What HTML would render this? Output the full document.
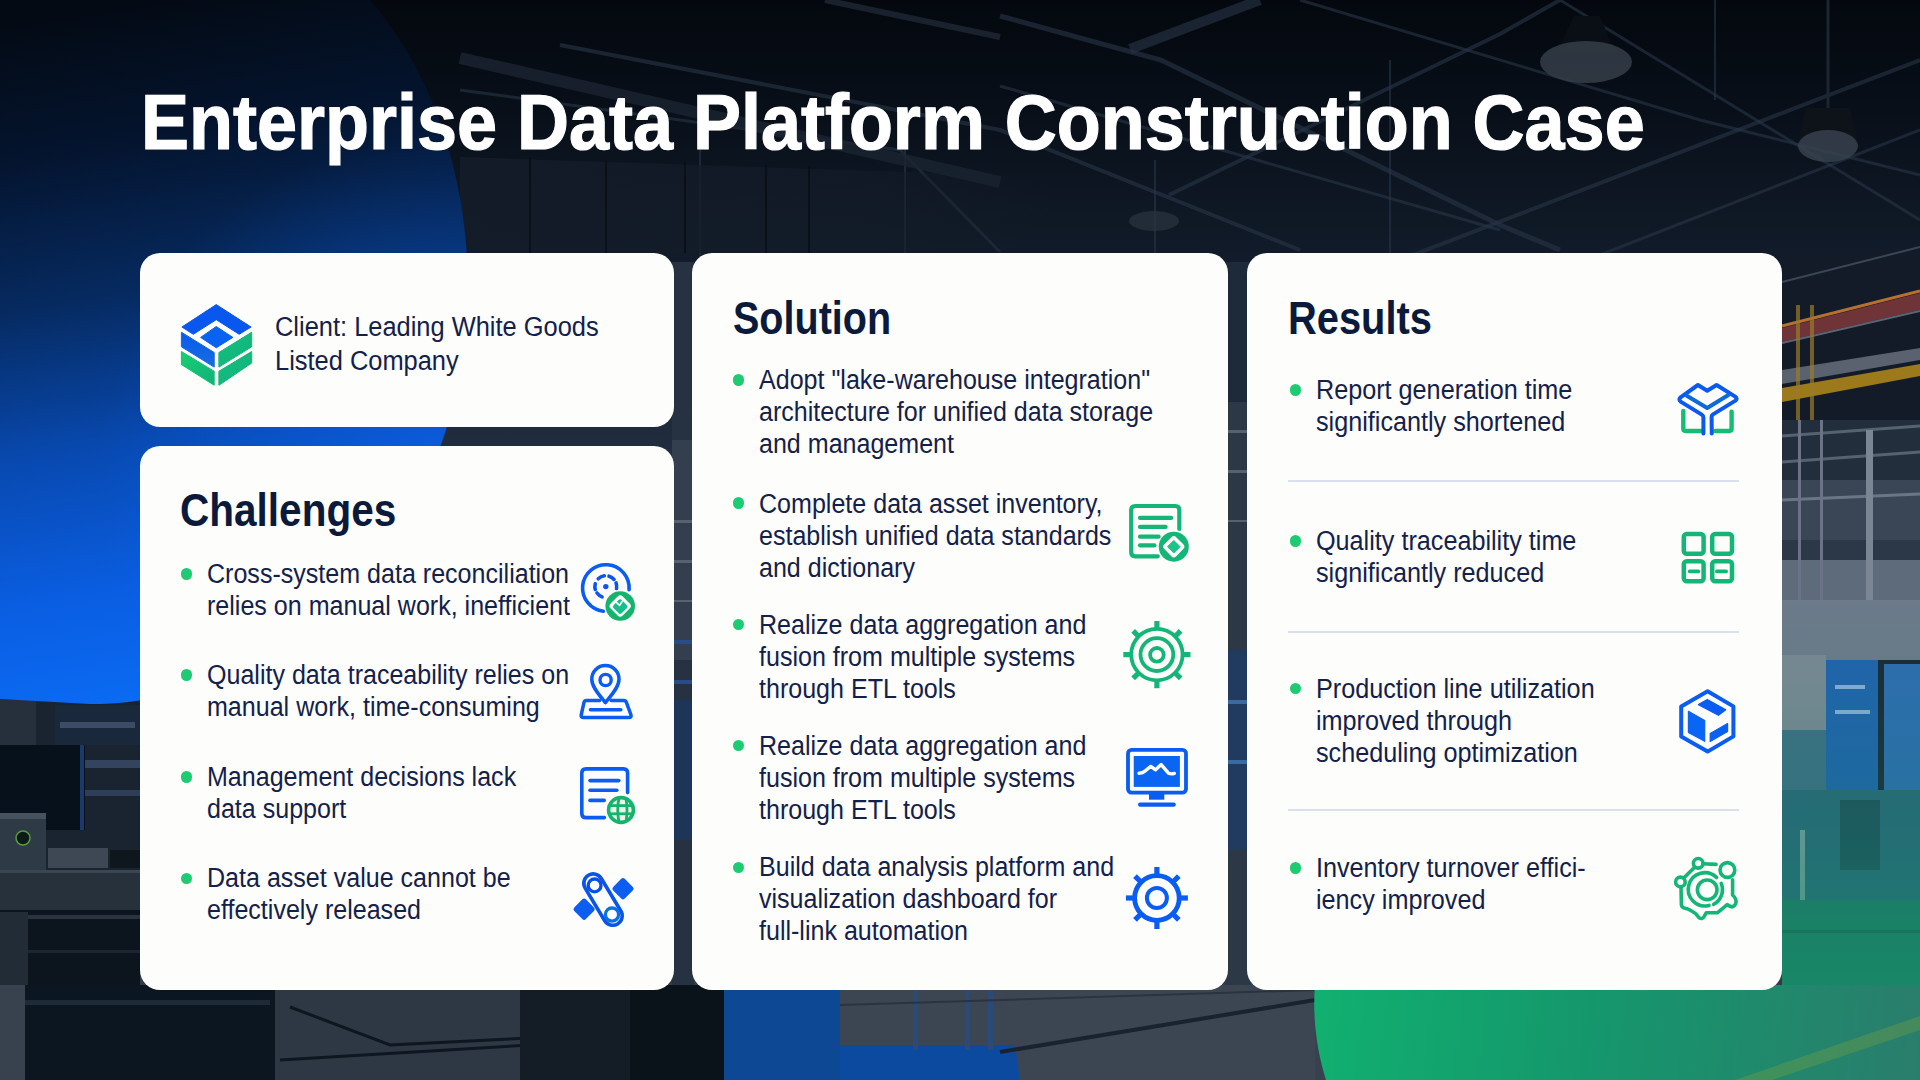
<!DOCTYPE html>
<html>
<head>
<meta charset="utf-8">
<style>
html,body{margin:0;padding:0;}
body{width:1920px;height:1080px;overflow:hidden;position:relative;background:#0b1118;font-family:"Liberation Sans",sans-serif;}
.abs{position:absolute;}
#bg{position:absolute;left:0;top:0;width:1920px;height:1080px;}
.card{position:absolute;background:#fdfdfb;border-radius:20px;}
h1{position:absolute;margin:0;left:140.5px;top:77px;font-size:77.6px;font-weight:700;color:#fff;white-space:nowrap;letter-spacing:0px;line-height:90px;transform-origin:0 0;transform:scaleX(0.9275);-webkit-text-stroke:1.2px #fff;}
.h2{position:absolute;margin:0;font-size:45.5px;font-weight:700;color:#0b1a3a;white-space:nowrap;line-height:50px;letter-spacing:0px;transform-origin:0 0;transform:scaleX(0.88);}
.txt{position:absolute;margin:0;font-size:26.8px;color:#13214a;white-space:nowrap;line-height:32px;letter-spacing:0px;transform-origin:0 0;transform:scaleX(0.935);}
.dot{position:absolute;width:11.5px;height:11.5px;border-radius:50%;background:#1ccb72;}
.ico{position:absolute;overflow:visible;}
.div{position:absolute;height:2px;background:#d8e0ee;}
</style>
</head>
<body>
<svg id="bg" width="1920" height="1080" viewBox="0 0 1920 1080">
  <defs>
    <linearGradient id="gBlue" gradientUnits="userSpaceOnUse" x1="150" y1="0" x2="260" y2="704">
      <stop offset="0" stop-color="#030a14"/>
      <stop offset="0.19" stop-color="#04142e"/>
      <stop offset="0.4" stop-color="#062a60"/>
      <stop offset="0.61" stop-color="#0849b0"/>
      <stop offset="0.815" stop-color="#0a5ee2"/>
      <stop offset="1" stop-color="#0a6df6"/>
    </linearGradient>
    <radialGradient id="gBlueHi" gradientUnits="userSpaceOnUse" cx="430" cy="470" r="330">
      <stop offset="0" stop-color="#0d64f0" stop-opacity="0.55"/>
      <stop offset="1" stop-color="#0d64f0" stop-opacity="0"/>
    </radialGradient>
    <linearGradient id="gGreen" gradientUnits="userSpaceOnUse" x1="1315" y1="1000" x2="1920" y2="1080">
      <stop offset="0" stop-color="#11b070"/>
      <stop offset="0.45" stop-color="#15976c"/>
      <stop offset="1" stop-color="#2a7d6c"/>
    </linearGradient>
    <linearGradient id="gTop" x1="0" y1="0" x2="0" y2="1">
      <stop offset="0" stop-color="#04080e"/>
      <stop offset="0.1" stop-color="#080f19"/>
      <stop offset="0.235" stop-color="#111b29"/>
      <stop offset="0.45" stop-color="#243042"/>
      <stop offset="0.65" stop-color="#2a3646"/>
      <stop offset="0.85" stop-color="#2c3744"/>
      <stop offset="1" stop-color="#38424e"/>
    </linearGradient>
    <linearGradient id="gRightTint" gradientUnits="userSpaceOnUse" x1="0" y1="600" x2="0" y2="1080">
      <stop offset="0" stop-color="#1a8a6a" stop-opacity="0"/>
      <stop offset="0.45" stop-color="#15806a" stop-opacity="0.25"/>
      <stop offset="1" stop-color="#12a06a" stop-opacity="0.75"/>
    </linearGradient>
  </defs>
  <rect x="0" y="0" width="1920" height="1080" fill="url(#gTop)"/>

  <!-- ceiling beams top band -->
  <g stroke="#283647" stroke-opacity="0.6" fill="none">
    <path d="M1130 49 L1260 0" stroke-width="10"/>
    <path d="M1000 16 L1161 60 L1500 225 L1560 250" stroke-width="5"/>
    <path d="M1000 86 L1500 230" stroke-width="3"/>
    <path d="M1169 195 L1500 34 L1560 0" stroke-width="4"/>
    <path d="M560 45 L1000 130 L1300 250" stroke-width="4"/>
    <path d="M460 90 L900 150 L1000 252" stroke-width="3"/>
    <path d="M1400 260 L1920 60" stroke-width="4"/>
    <path d="M1560 0 L1920 220" stroke-width="3"/>
    <path d="M1300 0 L1700 120 L1920 175" stroke-width="3"/>
    <path d="M1600 255 L1920 130" stroke-width="3"/>
    <path d="M700 150 L700 255" stroke-width="2"/>
    <path d="M905 150 L905 255" stroke-width="2"/>
    <path d="M1155 160 L1155 255" stroke-width="2"/>
    <path d="M1390 60 L1390 255" stroke-width="2"/>
    <path d="M1715 0 L1715 100" stroke-width="2"/>
  </g>
  <linearGradient id="gWall" gradientUnits="userSpaceOnUse" x1="460" y1="0" x2="1050" y2="0"><stop offset="0" stop-color="#131c28" stop-opacity="0.9"/><stop offset="0.7" stop-color="#131c28" stop-opacity="0.6"/><stop offset="1" stop-color="#131c28" stop-opacity="0"/></linearGradient>
  <path d="M460 157 L1050 177 L1050 253 L460 253 Z" fill="url(#gWall)"/>
  <g stroke="#070b12" stroke-opacity="0.7" stroke-width="2">
    <path d="M606 160 L606 253"/><path d="M685 162 L685 253"/><path d="M766 165 L766 253"/><path d="M809 166 L809 253"/><path d="M530 158 L530 253"/>
  </g>
  <path d="M460 58 L1000 182" stroke="#1a2431" stroke-opacity="0.8" stroke-width="12" fill="none"/>
  <path d="M825 0 L1000 37" stroke="#1e2835" stroke-opacity="0.8" stroke-width="6" fill="none"/>
  <!-- lamps -->
  <path d="M1558 50 L1574 16 L1600 16 L1614 50 Z" fill="#0a0f16"/>
  <ellipse cx="1586" cy="62" rx="46" ry="21" fill="#353e48" fill-opacity="0.85"/>
  <path d="M1798 140 L1806 108 L1850 108 L1858 140 Z" fill="#0e131a"/>
  <ellipse cx="1828" cy="146" rx="30" ry="16" fill="#3a4450" fill-opacity="0.8"/>
  <line x1="1828" y1="0" x2="1828" y2="108" stroke="#1c2530" stroke-width="3"/>
  <ellipse cx="1154" cy="221" rx="25" ry="10" fill="#2a3440" fill-opacity="0.7"/>
  
  <!-- right strip factory -->
  <g>
    <rect x="1782" y="250" width="138" height="830" fill="#1c2634"/>
    <rect x="1782" y="250" width="138" height="175" fill="#121b27"/>
    <path d="M1782 282 L1920 247" stroke="#3a4656" stroke-width="2"/>
    <path d="M1782 326 L1920 291" stroke="#b8702e" stroke-width="3"/>
    <path d="M1782 328 L1920 293 L1920 310 L1782 342 Z" fill="#6e3438"/>
    <path d="M1782 343 L1920 311" stroke="#5a6474" stroke-width="2"/>
    <path d="M1782 370 L1920 348 L1920 360 L1782 384 Z" fill="#5a6270"/>
    <path d="M1782 388 L1920 364 L1920 376 L1782 402 Z" fill="#9c7a1c"/>
    <rect x="1796" y="305" width="4" height="120" fill="#9a7a2a" fill-opacity="0.7"/>
    <rect x="1810" y="305" width="4" height="120" fill="#9a7a2a" fill-opacity="0.7"/>
    <rect x="1782" y="420" width="138" height="60" fill="#222e3c"/>
    <path d="M1782 436 L1920 426" stroke="#56626f" stroke-width="3"/>
    <path d="M1782 462 L1920 452" stroke="#56626f" stroke-width="3"/>
    <rect x="1782" y="480" width="138" height="80" fill="#3a4656"/>
    <path d="M1782 500 L1920 494" stroke="#6a7684" stroke-width="3"/>
    <rect x="1782" y="540" width="138" height="22" fill="#2c3848"/>
    <rect x="1782" y="560" width="138" height="100" fill="#5e6b7b"/>
    <rect x="1866" y="430" width="7" height="420" fill="#7a8694"/>
    <rect x="1798" y="420" width="3" height="240" fill="#6a7486"/>
    <rect x="1820" y="420" width="3" height="240" fill="#6a7486"/>
    <rect x="1782" y="600" width="138" height="60" fill="#6c7a8a"/>
    <rect x="1782" y="655" width="44" height="75" fill="#7c8894"/>
    <rect x="1826" y="660" width="52" height="130" fill="#2062ae"/>
    <rect x="1884" y="664" width="36" height="126" fill="#2e6cb2"/>
    <rect x="1835" y="685" width="30" height="4" fill="#8ab0d8"/>
    <rect x="1835" y="710" width="35" height="4" fill="#8ab0d8"/>
    <rect x="1782" y="730" width="44" height="60" fill="#3e6e84"/>
    <rect x="1782" y="790" width="138" height="110" fill="#2a6678"/>
    <rect x="1840" y="800" width="40" height="70" fill="#1e4e5a"/>
    <rect x="1800" y="830" width="5" height="70" fill="#7aa0a0"/>
    <rect x="1782" y="900" width="138" height="180" fill="#207664"/>
    <rect x="1782" y="930" width="138" height="3" fill="#1a5e52"/>
  </g>

  <!-- left strip machinery (below blob) -->
  <g>
    <rect x="0" y="690" width="140" height="390" fill="#1a2430"/>
    <rect x="0" y="700" width="36" height="50" fill="#26303c"/>
    <rect x="55" y="705" width="85" height="40" fill="#1a283c"/>
    <rect x="60" y="722" width="75" height="6" fill="#3c4c66"/>
    <rect x="85" y="760" width="55" height="8" fill="#34445e"/>
    <rect x="85" y="790" width="55" height="6" fill="#2e3e58"/>
    <rect x="0" y="745" width="85" height="85" fill="#07111c"/>
    <rect x="80" y="745" width="4" height="85" fill="#1a3a6a"/>
    <rect x="0" y="813" width="46" height="57" fill="#2e3a46"/>
    <rect x="0" y="813" width="46" height="6" fill="#46525e"/>
    <circle cx="23" cy="838" r="7" fill="#0c1a1a" stroke="#5a9a40" stroke-width="1.5"/>
    <rect x="48" y="848" width="60" height="20" fill="#3e4854"/>
    <rect x="110" y="850" width="30" height="18" fill="#0e161e"/>
    <rect x="0" y="870" width="140" height="40" fill="#26313c"/>
    <rect x="0" y="870" width="140" height="3" fill="#3a4652"/>
    <rect x="0" y="910" width="140" height="170" fill="#0c151e"/>
    <rect x="28" y="915" width="112" height="4" fill="#2a3440"/>
    <rect x="28" y="950" width="112" height="3" fill="#1c2630"/>
    <rect x="0" y="912" width="28" height="168" fill="#222c37"/>
  </g>

  <!-- gaps between cards -->
  <rect x="672" y="262" width="22" height="725" fill="#263242"/>
  <rect x="672" y="440" width="22" height="220" fill="#333f4e"/>
  <rect x="672" y="700" width="22" height="140" fill="#1d3558"/>
  <rect x="1226" y="262" width="24" height="725" fill="#2c3846"/>
  <rect x="1226" y="262" width="24" height="140" fill="#1e2a3a"/>
  <rect x="1226" y="650" width="24" height="200" fill="#203a60"/>

  <g fill="#56626f">
    <rect x="672" y="520" width="22" height="3"/><rect x="672" y="560" width="22" height="3"/><rect x="672" y="600" width="22" height="2"/>
    <rect x="672" y="640" width="22" height="4" fill="#2a4a8a"/><rect x="672" y="680" width="22" height="4" fill="#2a4a8a"/>
    <rect x="1226" y="430" width="24" height="3"/><rect x="1226" y="470" width="24" height="3"/><rect x="1226" y="520" width="24" height="2"/>
    <rect x="1226" y="700" width="24" height="4" fill="#3a6aa0"/><rect x="1226" y="760" width="24" height="4" fill="#3a6aa0"/>
  </g>
  <!-- bottom band -->
  <g>
    <rect x="0" y="985" width="1920" height="95" fill="#37424e"/>
    <rect x="25" y="985" width="250" height="95" fill="#0c1620"/>
    <rect x="25" y="1000" width="245" height="5" fill="#1e2a36"/>
    <rect x="275" y="985" width="245" height="95" fill="#2e3844"/>
    <path d="M290 1007 L390 1045 L530 1038" stroke="#0e1620" stroke-width="3" fill="none"/>
    <path d="M280 1060 L530 1045" stroke="#0e1620" stroke-width="3" fill="none"/>
    <rect x="520" y="985" width="110" height="95" fill="#141c26"/>
    <rect x="630" y="985" width="95" height="95" fill="#0a121a"/>
    <rect x="724" y="985" width="116" height="95" fill="#0c4894"/>
    <rect x="840" y="985" width="475" height="95" fill="#3c4652"/>
    <path d="M840 1045 L1015 1045 L1020 1080 L840 1080 Z" fill="#0c4aa0"/>
    <rect x="913" y="990" width="5" height="60" fill="#2a4a7a"/>
    <rect x="965" y="990" width="5" height="60" fill="#2a4a7a"/>
    <rect x="988" y="990" width="5" height="60" fill="#2a4a7a"/>
    <path d="M1000 1052 L1315 1000" stroke="#1a2230" stroke-width="4" fill="none"/>
    <path d="M840 1005 L1315 990" stroke="#2a3440" stroke-width="2" fill="none"/>
  </g>

  <!-- right green tint over factory -->
  <rect x="1782" y="560" width="138" height="520" fill="url(#gRightTint)"/>

  <!-- blue blob -->
  <path d="M0 0 L370 0 C430 70 468 170 468 290 C469 370 445 470 380 560 C320 650 200 704 90 704 L0 699 Z" fill="url(#gBlue)"/>
  <path d="M0 0 L370 0 C430 70 468 170 468 290 C469 370 445 470 380 560 C320 650 200 704 90 704 L0 699 Z" fill="url(#gBlueHi)"/>
  <!-- green blob -->
  <path d="M1315 985 C1312 1020 1318 1055 1326 1080 L1920 1080 L1920 985 Z" fill="url(#gGreen)"/>
  <path d="M1735 1080 L1920 1016 L1920 1030 L1772 1080 Z" fill="#7aa040" fill-opacity="0.35"/>
</svg>

<h1 id="title">Enterprise Data Platform Construction Case</h1>

<!-- Client card -->
<div class="card" style="left:140px;top:253px;width:534px;height:174px;"></div>
<div class="txt" id="client" style="left:275px;top:310px;font-size:28.2px;line-height:33.5px;transform:scaleX(0.902);">Client: Leading White Goods<br>Listed Company</div>

<!-- Challenges card -->
<div class="card" style="left:140px;top:446px;width:534px;height:544px;"></div>
<div class="h2" id="hChal" style="left:180px;top:486px;transform:scaleX(0.891);">Challenges</div>

<!-- Solution card -->
<div class="card" style="left:692px;top:253px;width:536px;height:737px;"></div>
<div class="h2" id="hSol" style="left:732.5px;top:294px;transform:scaleX(0.869);">Solution</div>

<!-- Results card -->
<div class="card" style="left:1247px;top:253px;width:535px;height:737px;"></div>
<div class="h2" id="hRes" style="left:1287.5px;top:294px;transform:scaleX(0.876);">Results</div>


<!-- challenges items -->
<div class="dot" style="left:180.5px;top:568px;"></div>
<div class="txt" id="c1" style="left:206.5px;top:557.5px;">Cross-system data reconciliation<br>relies on manual work, inefficient</div>
<div class="dot" style="left:180.5px;top:669px;"></div>
<div class="txt" id="c2" style="left:206.5px;top:658.8px;">Quality data traceability relies on<br>manual work, time-consuming</div>
<div class="dot" style="left:180.5px;top:771px;"></div>
<div class="txt" id="c3" style="left:206.5px;top:760.7px;">Management decisions lack<br>data support</div>
<div class="dot" style="left:180.5px;top:872.5px;"></div>
<div class="txt" id="c4" style="left:206.5px;top:862.3px;">Data asset value cannot be<br>effectively released</div>

<!-- solution items -->
<div class="dot" style="left:732.5px;top:374px;"></div>
<div class="txt" id="s1" style="left:758.8px;top:363.7px;">Adopt "lake-warehouse integration"<br>architecture for unified data storage<br>and management</div>
<div class="dot" style="left:732.5px;top:497px;"></div>
<div class="txt" id="s2" style="left:758.8px;top:487.5px;">Complete data asset inventory,<br>establish unified data standards<br>and dictionary</div>
<div class="dot" style="left:732.5px;top:618.5px;"></div>
<div class="txt" id="s3" style="left:758.8px;top:608.9px;">Realize data aggregation and<br>fusion from multiple systems<br>through ETL tools</div>
<div class="dot" style="left:732.5px;top:739.5px;"></div>
<div class="txt" id="s4" style="left:758.8px;top:730.3px;">Realize data aggregation and<br>fusion from multiple systems<br>through ETL tools</div>
<div class="dot" style="left:732.5px;top:861.5px;"></div>
<div class="txt" id="s5" style="left:758.8px;top:851px;">Build data analysis platform and<br>visualization dashboard for<br>full-link automation</div>

<!-- results items -->
<div class="dot" style="left:1289.5px;top:384px;"></div>
<div class="txt" id="r1" style="transform:scaleX(0.94);left:1316px;top:374.3px;">Report generation time<br>significantly shortened</div>
<div class="div" style="left:1288px;top:480px;width:451px;"></div>
<div class="dot" style="left:1289.5px;top:535px;"></div>
<div class="txt" id="r2" style="transform:scaleX(0.94);left:1316px;top:525px;">Quality traceability time<br>significantly reduced</div>
<div class="div" style="left:1288px;top:631px;width:451px;"></div>
<div class="dot" style="left:1289.5px;top:682.5px;"></div>
<div class="txt" id="r3" style="transform:scaleX(0.94);left:1316px;top:672.7px;">Production line utilization<br>improved through<br>scheduling optimization</div>
<div class="div" style="left:1288px;top:809px;width:451px;"></div>
<div class="dot" style="left:1289.5px;top:862px;"></div>
<div class="txt" id="r4" style="transform:scaleX(0.94);left:1316px;top:851.7px;">Inventory turnover effici-<br>iency improved</div>

<svg class="ico" style="left:160px;top:290px;" width="112" height="110" viewBox="0 0 112 110">
 <defs>
  <linearGradient id="lgB" x1="0" y1="0" x2="0" y2="1"><stop offset="0" stop-color="#0a58ee"/><stop offset="1" stop-color="#1670dc"/></linearGradient>
  <linearGradient id="lgG1" x1="0" y1="0" x2="1" y2="1"><stop offset="0" stop-color="#10c27c"/><stop offset="1" stop-color="#14b07e"/></linearGradient>
  <linearGradient id="lgG2" x1="0" y1="0" x2="1" y2="1"><stop offset="0" stop-color="#18d070"/><stop offset="1" stop-color="#10b07c"/></linearGradient>
 </defs>
 <path d="M56.25 14.6 L91.1 37 L79.2 44.3 L56.25 29.7 L33.3 44.3 L21.9 37 Z" fill="#0a57ef" stroke="#0a57ef" stroke-width="1" stroke-linejoin="round"/>
 <path d="M56.25 36.5 L72.9 47.4 L56.25 57.8 L40.6 47.4 Z" fill="#0a62f0" stroke="#0a62f0" stroke-width="1" stroke-linejoin="round"/>
 <path d="M21.4 42.2 L54.2 62.5 L54.2 77.1 L21.4 56.8 Z" fill="url(#lgB)" stroke="#1268e0" stroke-width="1" stroke-linejoin="round"/>
 <path d="M58.9 62.5 L91.7 42.2 L91.7 56.8 L58.9 77.1 Z" fill="url(#lgG1)" stroke="#12b87c" stroke-width="1" stroke-linejoin="round"/>
 <path d="M21.4 61.5 L54.2 81.25 L54.2 95.3 L21.4 74.5 Z" fill="url(#lgG2)" stroke="#14c274" stroke-width="1" stroke-linejoin="round"/>
 <path d="M58.9 81.25 L91.7 61.5 L91.7 73 L58.9 95.3 Z" fill="url(#lgG1)" stroke="#12b47a" stroke-width="1" stroke-linejoin="round"/>
</svg>
<svg class="ico" style="left:570px;top:555px;" width="75" height="75" viewBox="0 0 75 75">
 <path d="M59.1 34.7 A23.3 23.3 0 1 0 33.3 56.2" fill="none" stroke="#0a5cf2" stroke-width="3.6" stroke-linecap="round"/>
 <path d="M28.23 23.76 A10.9 10.9 0 0 1 34.28 20.81" fill="none" stroke="#0d55ee" stroke-width="3.6" stroke-linecap="round"/><path d="M38.99 21.18 A10.9 10.9 0 0 1 44.03 24.45" fill="none" stroke="#0d55ee" stroke-width="3.6" stroke-linecap="round"/><path d="M46.04 27.87 A10.9 10.9 0 0 1 46.53 33.49" fill="none" stroke="#0d55ee" stroke-width="3.6" stroke-linecap="round"/><path d="M25.27 34.42 A10.9 10.9 0 0 1 25.27 28.78" fill="none" stroke="#0d55ee" stroke-width="3.6" stroke-linecap="round"/><path d="M32.07 41.84 A10.9 10.9 0 0 1 26.98 38.01" fill="none" stroke="#0d55ee" stroke-width="3.6" stroke-linecap="round"/>
 <circle cx="35.8" cy="31.6" r="2.7" fill="#0d55ee"/>
 <circle cx="50.2" cy="51" r="14.8" fill="#16b36c"/>
 <rect x="-8.5" y="-8.5" width="17" height="17" rx="3.6" fill="#fff" transform="translate(50.2 51) rotate(45)"/>
 <rect x="-5.8" y="-5.8" width="11.6" height="11.6" rx="2.4" fill="#14c08a" transform="translate(50.2 51.6) rotate(45)"/>
 <path d="M46.6 47.6 L49.6 50.4 L52.4 46" fill="none" stroke="#fff" stroke-width="1.6" stroke-linecap="round" stroke-linejoin="round"/>
</svg>
<svg class="ico" style="left:570px;top:655px;" width="75" height="75" viewBox="0 0 75 75">
 <path d="M35.4 47.6 C30 40.5 21.8 32.5 21.8 24.2 A13.6 13.6 0 0 1 49 24.2 C49 32.5 40.8 40.5 35.4 47.6 Z" fill="none" stroke="#0a5cf2" stroke-width="3.5" stroke-linejoin="round"/>
 <circle cx="35.6" cy="25" r="5.6" fill="none" stroke="#0a5cf2" stroke-width="3.4"/>
 <path d="M29.6 45.6 L16.5 45.6 Q14.5 45.6 14 47.4 L11.2 60 Q10.8 62.6 13.4 62.6 L59 62.6 Q61.6 62.6 61 60 L56.4 47.4 Q55.8 45.6 53.8 45.6 L41.2 45.6" fill="none" stroke="#0a5cf2" stroke-width="3.5" stroke-linejoin="round" stroke-linecap="round"/>
 <line x1="20.4" y1="54.8" x2="50.8" y2="54.8" stroke="#0a5cf2" stroke-width="3.5" stroke-linecap="round"/>
</svg>
<svg class="ico" style="left:570px;top:758px;" width="75" height="75" viewBox="0 0 75 75">
 <path d="M34.4 59.6 L16 59.6 Q11.8 59.6 11.8 55.4 L11.8 15.1 Q11.8 10.9 16 10.9 L53.4 10.9 Q57.6 10.9 57.6 15.1 L57.6 34.6" fill="none" stroke="#0a5cf2" stroke-width="3.6" stroke-linecap="round" stroke-linejoin="round"/>
 <line x1="20" y1="22.6" x2="48.8" y2="22.6" stroke="#0a5cf2" stroke-width="3.6" stroke-linecap="round"/>
 <line x1="20" y1="32.3" x2="46.8" y2="32.3" stroke="#0a5cf2" stroke-width="3.6" stroke-linecap="round"/>
 <line x1="20" y1="42.4" x2="34.2" y2="42.4" stroke="#0a5cf2" stroke-width="3.6" stroke-linecap="round"/>
 <circle cx="51" cy="52" r="12.4" fill="#eef4e6" stroke="#14b46c" stroke-width="3.6"/>
 <line x1="38.6" y1="47.6" x2="63.4" y2="47.6" stroke="#14b46c" stroke-width="2.8"/>
 <line x1="38.6" y1="55.8" x2="63.4" y2="55.8" stroke="#14b46c" stroke-width="2.8"/>
 <path d="M49 39.6 Q46.5 52 49 64.4" fill="none" stroke="#14b46c" stroke-width="2.8"/>
 <path d="M56 40.4 Q58 52 56 63.6" fill="none" stroke="#14b46c" stroke-width="2.8"/>
</svg>
<svg class="ico" style="left:565px;top:862px;" width="80" height="75" viewBox="0 0 80 75">
 <rect x="-8.2" y="-8.2" width="16.4" height="16.4" rx="2.5" fill="#0b5ef0" transform="translate(19.1 47.2) rotate(45)"/>
 <rect x="-8.2" y="-8.2" width="16.4" height="16.4" rx="2.5" fill="#0b5ef0" transform="translate(58 26.7) rotate(45)"/>
 <rect x="-28.4" y="-9.4" width="56.8" height="18.8" rx="9.4" fill="#fff" stroke="#0a54ea" stroke-width="3.6" transform="translate(38 37.6) rotate(59)"/>
 <circle cx="29.6" cy="23.4" r="6.4" fill="none" stroke="#0a50e8" stroke-width="3.3"/>
 <circle cx="47" cy="52.6" r="6.6" fill="none" stroke="#0a70e6" stroke-width="3.3"/>
</svg>
<svg class="ico" style="left:1120px;top:495px;" width="80" height="75" viewBox="0 0 80 75">
 <path d="M37.8 61.3 L15.2 61.3 Q11.2 61.3 11.2 57.3 L11.2 15 Q11.2 11 15.2 11 L55.3 11 Q59.3 11 59.3 15 L59.3 34" fill="none" stroke="#14b677" stroke-width="4.2" stroke-linecap="round" stroke-linejoin="round"/>
 <line x1="20" y1="22.9" x2="51.2" y2="22.9" stroke="#14b677" stroke-width="4.2" stroke-linecap="round"/>
 <line x1="20" y1="31.9" x2="45.6" y2="31.9" stroke="#14b677" stroke-width="4.2" stroke-linecap="round"/>
 <line x1="20" y1="41.7" x2="38.6" y2="41.7" stroke="#14b677" stroke-width="4.2" stroke-linecap="round"/>
 <line x1="20" y1="50.3" x2="34.4" y2="50.3" stroke="#14b677" stroke-width="4.2" stroke-linecap="round"/>
 <circle cx="53.8" cy="51.7" r="15" fill="#14b677"/>
 <rect x="-8.4" y="-8.4" width="16.8" height="16.8" rx="3.4" fill="#fff" transform="translate(53.8 51.7) rotate(45)"/>
 <path d="M53.8 45.4 L60.1 51.7 L53.8 58 L47.5 51.7 Z" fill="#1cc48a" stroke="#1cc48a" stroke-width="1" stroke-linejoin="round"/>
</svg>
<svg class="ico" style="left:1115px;top:615px;" width="80" height="80" viewBox="0 0 80 80">
 <circle cx="41.9" cy="39.6" r="25.7" fill="none" stroke="#14b677" stroke-width="3.8"/>
 <circle cx="41.9" cy="39.6" r="16.4" fill="none" stroke="#14b677" stroke-width="3.8"/>
 <circle cx="41.9" cy="39.8" r="6.8" fill="none" stroke="#14b677" stroke-width="3.8"/>
 <line x1="67.90" y1="39.60" x2="75.50" y2="39.60" stroke="#14b677" stroke-width="5.2" stroke-linecap="butt"/><line x1="60.28" y1="57.98" x2="65.66" y2="63.36" stroke="#14b677" stroke-width="5.2" stroke-linecap="butt"/><line x1="41.90" y1="65.60" x2="41.90" y2="73.20" stroke="#14b677" stroke-width="5.2" stroke-linecap="butt"/><line x1="23.52" y1="57.98" x2="18.14" y2="63.36" stroke="#14b677" stroke-width="5.2" stroke-linecap="butt"/><line x1="15.90" y1="39.60" x2="8.30" y2="39.60" stroke="#14b677" stroke-width="5.2" stroke-linecap="butt"/><line x1="23.52" y1="21.22" x2="18.14" y2="15.84" stroke="#14b677" stroke-width="5.2" stroke-linecap="butt"/><line x1="41.90" y1="13.60" x2="41.90" y2="6.00" stroke="#14b677" stroke-width="5.2" stroke-linecap="butt"/><line x1="60.28" y1="21.22" x2="65.66" y2="15.84" stroke="#14b677" stroke-width="5.2" stroke-linecap="butt"/>
</svg>
<svg class="ico" style="left:1115px;top:740px;" width="80" height="75" viewBox="0 0 80 75">
 <rect x="13" y="9.9" width="58" height="42.7" rx="3.6" fill="none" stroke="#0a5cf2" stroke-width="3.8"/>
 <rect x="18.75" y="16" width="46.15" height="30.9" fill="#0a66f2"/>
 <path d="M24 33.2 Q28 33 30 31 L35.8 26.4 L40.6 29.8 L46.2 24.6 L53.5 33.2 Q56 34.4 59.4 33.4" fill="none" stroke="#fff" stroke-width="3.4" stroke-linecap="round" stroke-linejoin="round"/>
 <rect x="34" y="53" width="15.3" height="6.7" fill="#0a5cf2"/>
 <line x1="25.2" y1="64.6" x2="58.6" y2="64.6" stroke="#0a5cf2" stroke-width="4.4" stroke-linecap="round"/>
</svg>
<svg class="ico" style="left:1115px;top:858px;" width="80" height="80" viewBox="0 0 80 80">
 <circle cx="41.9" cy="40" r="22.3" fill="none" stroke="#0a5cf2" stroke-width="4.8"/>
 <circle cx="41.9" cy="40" r="10" fill="none" stroke="#0a5cf2" stroke-width="4"/>
 <line x1="64.90" y1="40.00" x2="72.90" y2="40.00" stroke="#0a5cf2" stroke-width="5.2" stroke-linecap="butt"/><line x1="58.16" y1="56.26" x2="63.82" y2="61.92" stroke="#0a5cf2" stroke-width="5.2" stroke-linecap="butt"/><line x1="41.90" y1="63.00" x2="41.90" y2="71.00" stroke="#0a5cf2" stroke-width="5.2" stroke-linecap="butt"/><line x1="25.64" y1="56.26" x2="19.98" y2="61.92" stroke="#0a5cf2" stroke-width="5.2" stroke-linecap="butt"/><line x1="18.90" y1="40.00" x2="10.90" y2="40.00" stroke="#0a5cf2" stroke-width="5.2" stroke-linecap="butt"/><line x1="25.64" y1="23.74" x2="19.98" y2="18.08" stroke="#0a5cf2" stroke-width="5.2" stroke-linecap="butt"/><line x1="41.90" y1="17.00" x2="41.90" y2="9.00" stroke="#0a5cf2" stroke-width="5.2" stroke-linecap="butt"/><line x1="58.16" y1="23.74" x2="63.82" y2="18.08" stroke="#0a5cf2" stroke-width="5.2" stroke-linecap="butt"/>
</svg>
<svg class="ico" style="left:1668px;top:372px;" width="80" height="75" viewBox="0 0 80 75">
 <path d="M15.3 38.9 L15.3 56.6 Q15.3 59 17.7 59 L33 59" fill="none" stroke="#14bd74" stroke-width="4.4" stroke-linecap="round" stroke-linejoin="round"/>
 <path d="M63.6 39.6 L63.6 56.6 Q63.6 59 61.2 59 L47.4 59" fill="none" stroke="#14bd74" stroke-width="4.4" stroke-linecap="round" stroke-linejoin="round"/>
 <path d="M35.4 61.6 L35.4 45.5 Q35.4 43.6 33.8 42.6 L12.6 29.6 Q10.2 27.4 12.6 25.4 L29.9 13 L39.2 18.8 L48.6 13 L67.2 24.6 Q70 26.8 67.4 28.6 L45 42.4 Q43.6 43.4 43.6 45 L43.8 61.6" fill="none" stroke="#0b5af0" stroke-width="4" stroke-linecap="round" stroke-linejoin="round"/>
 <path d="M18.8 23.8 L39.2 36 L60.4 23" fill="none" stroke="#0d6ad8" stroke-width="4" stroke-linecap="round" stroke-linejoin="round"/>
</svg>
<svg class="ico" style="left:1668px;top:520px;" width="80" height="75" viewBox="0 0 80 75">
 <rect x="15.8" y="14" width="19.8" height="19.8" rx="3" fill="none" stroke="#14b677" stroke-width="4.5"/>
 <rect x="44.2" y="14" width="19.8" height="19.8" rx="3" fill="none" stroke="#14b677" stroke-width="4.5"/>
 <rect x="15.8" y="41.2" width="19.8" height="20" rx="3" fill="none" stroke="#14b677" stroke-width="4.5"/>
 <rect x="44.2" y="41.2" width="19.8" height="20" rx="3" fill="none" stroke="#14b677" stroke-width="4.5"/>
 <line x1="21.6" y1="51.4" x2="30.4" y2="51.4" stroke="#14b677" stroke-width="3.6" stroke-linecap="round"/>
 <line x1="48.8" y1="51.4" x2="58.2" y2="51.4" stroke="#14b677" stroke-width="3.6" stroke-linecap="round"/>
</svg>
<svg class="ico" style="left:1668px;top:682px;" width="80" height="80" viewBox="0 0 80 80">
 <path d="M39.6 9.2 L65.4 24.4 L65.4 54.4 L39.6 69.6 L13.2 54.4 L13.2 24.4 Z" fill="none" stroke="#0a5cf2" stroke-width="4" stroke-linejoin="round"/>
 <path d="M20.4 29.3 L36.7 38.5 L36.7 59.3 L20.4 50.4 Z" fill="#0a64f4" stroke="#0a64f4" stroke-width="1.2" stroke-linejoin="round"/>
 <path d="M30.4 22.6 L39.3 17.4 L57.8 27.8 L50.4 33.3 Z" fill="#0a5cf2" stroke="#0a5cf2" stroke-width="1.2" stroke-linejoin="round"/>
 <path d="M42.2 51.5 L59.6 41.5 L59.6 49.6 L42.2 59.6 Z" fill="#0a60f0" stroke="#0a60f0" stroke-width="1.2" stroke-linejoin="round"/>
</svg>
<svg class="ico" style="left:1666px;top:850px;" width="80" height="80" viewBox="0 0 80 80">
 <g fill="none" stroke="#14b677" stroke-width="3.6" stroke-linecap="round" stroke-linejoin="round">
  <path d="M36.8 13.8 L50 14.4"/>
  <path d="M28.4 17.4 L18.2 27.6"/>
  <path d="M15 36.8 L15.4 55 Q16 58 19 58.2 Q23 58.6 29.6 63.6 L33 67.6 Q36 70 38.2 66.4 L40.2 62.8 L51.6 62.6 L61.2 54.6 L64.6 56.6 Q67.6 57.8 69.6 53.8 Q71.4 49.4 66.6 45 L66.6 29.8"/>
  <circle cx="32.2" cy="13.3" r="4.8"/>
  <circle cx="14.4" cy="31.9" r="4.8"/>
  <circle cx="61.4" cy="20" r="7.4"/>
  <circle cx="41.2" cy="39.8" r="9.8"/>
  <path d="M43 55.4 A16.6 16.6 0 1 1 50.6 27.6"/>
  <path d="M55.2 33.4 A16.6 16.6 0 0 1 47.6 54.4"/>
 </g>
</svg>
</body>
</html>
